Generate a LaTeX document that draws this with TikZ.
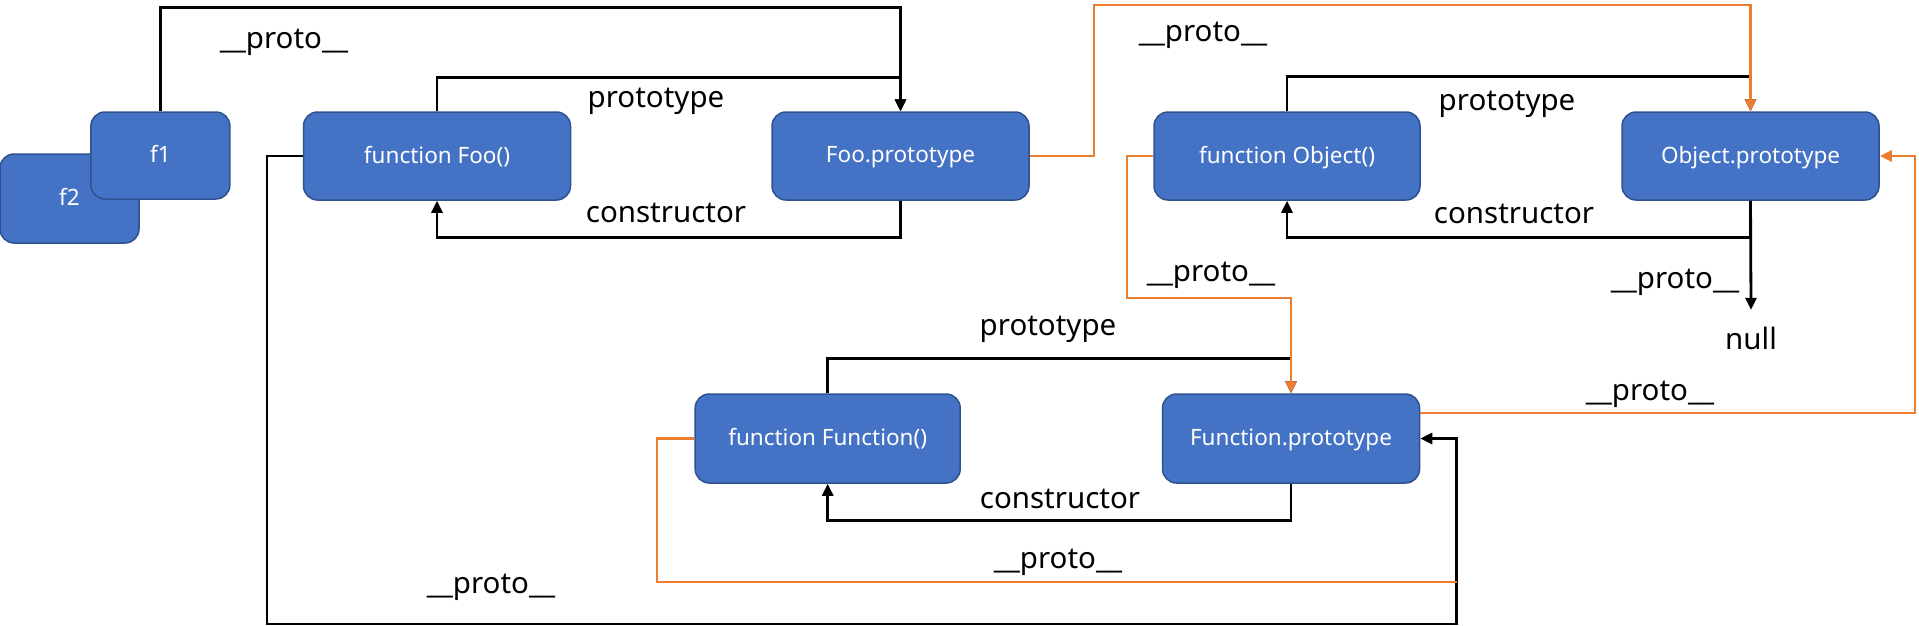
\documentclass[tikz,border=0pt]{standalone}
\usepackage{fontspec}
\setmainfont{Noto Sans}
\usetikzlibrary{arrows.meta,calc}
\definecolor{boxfill}{HTML}{4472C4}
\definecolor{boxline}{HTML}{2F528F}
\definecolor{orng}{HTML}{ED7D31}
\begin{document}
\begin{tikzpicture}[x=1pt,y=-1pt,
  box/.style={draw=boxline, line width=1.5pt, fill=boxfill, rounded corners=14pt,
    text=white, font=\fontsize{22.5}{26}\selectfont, minimum width=#1,
    minimum height=88pt, inner sep=0pt, text depth=3pt},
  lbl/.style={font=\fontsize{29.5}{34}\selectfont, inner sep=0pt},
  blk/.style={line width=2.8pt, draw=black},
  org/.style={line width=2.8pt, draw=orng},
  tip/.style={-{Triangle[width=11pt,length=12pt]}}]
\useasboundingbox (0,0) rectangle (1919,626);
% boxes
\node[box=139pt, minimum height=89pt] (f2) at (69.5,198.5) {f2};
\node[box=139pt, minimum height=87pt] (f1) at (160.4,155.5) {f1};
\node[box=267pt] (foo) at (437,156) {function Foo()};
\node[box=257pt] (foop) at (900.5,156) {Foo.prototype};
\node[box=266pt] (obj) at (1287,156) {function Object()};
\node[box=257pt] (objp) at (1750.5,156) {Object.prototype};
\node[box=265pt, minimum height=89pt] (fn) at (827.7,438.5) {function Function()};
\node[box=257pt, minimum height=89pt] (fnp) at (1291,438.5) {Function.prototype};
\node[lbl, minimum height=56pt] (null) at (1751,338) {null};
% labels
\node[lbl] (l1) at (284,42) {\_\_proto\_\_};
\node[lbl] (l2) at (656,101) {prototype};
\node[lbl] (l3) at (666,213) {constructor};
\node[lbl] (l4) at (1203,35) {\_\_proto\_\_};
\node[lbl] (l5) at (1507,104) {prototype};
\node[lbl] (l6) at (1514,214) {constructor};
\node[lbl] (l7) at (1211,275) {\_\_proto\_\_};
\node[lbl] (l8) at (1675,282) {\_\_proto\_\_};
\node[lbl] (l9) at (1650,394) {\_\_proto\_\_};
\node[lbl] (l10) at (1048,329) {prototype};
\node[lbl] (l11) at (1060,499) {constructor};
\node[lbl] (l12) at (1058,562) {\_\_proto\_\_};
\node[lbl] (l13) at (491,587) {\_\_proto\_\_};
% black connectors
\draw[blk,tip] (f1.north) -- ++(0,-104) -| (foop.north);
\draw[blk,tip] (foo.north) -- ++(0,-34) -| (foop.north);
\draw[blk,tip] (foop.south) -- ++(0,37) -| (foo.south);
\draw[blk,tip] (obj.north) -- ++(0,-35) -| (objp.north);
\draw[blk,tip] (objp.south) -- ++(0,37) -| (obj.south);
\draw[blk,tip] (objp.south) -- (null.north);
\draw[blk,tip] (fn.north) -- ++(0,-35) -| (fnp.north);
\draw[blk,tip] (fnp.south) -- ++(0,37) -| (fn.south);
\draw[blk,tip] (foo.west) -| (267,624) -| (1456.5,438.5) -- (fnp.east);
% orange connectors
\coordinate (j) at (1456.5,582);
\coordinate (fnpe) at ($(fnp.east)+(0,-25.5)$);
\draw[org,tip] (foop.east) -| (1094,5) -| (objp.north);
\draw[org,tip] (obj.west) -| (1127,298) -| (fnp.north);
\draw[org] (fn.west) -| (657,582) -- (j);
\draw[org,tip] (fnpe) -| (1915,156) -- (objp.east);
\end{tikzpicture}
\end{document}
